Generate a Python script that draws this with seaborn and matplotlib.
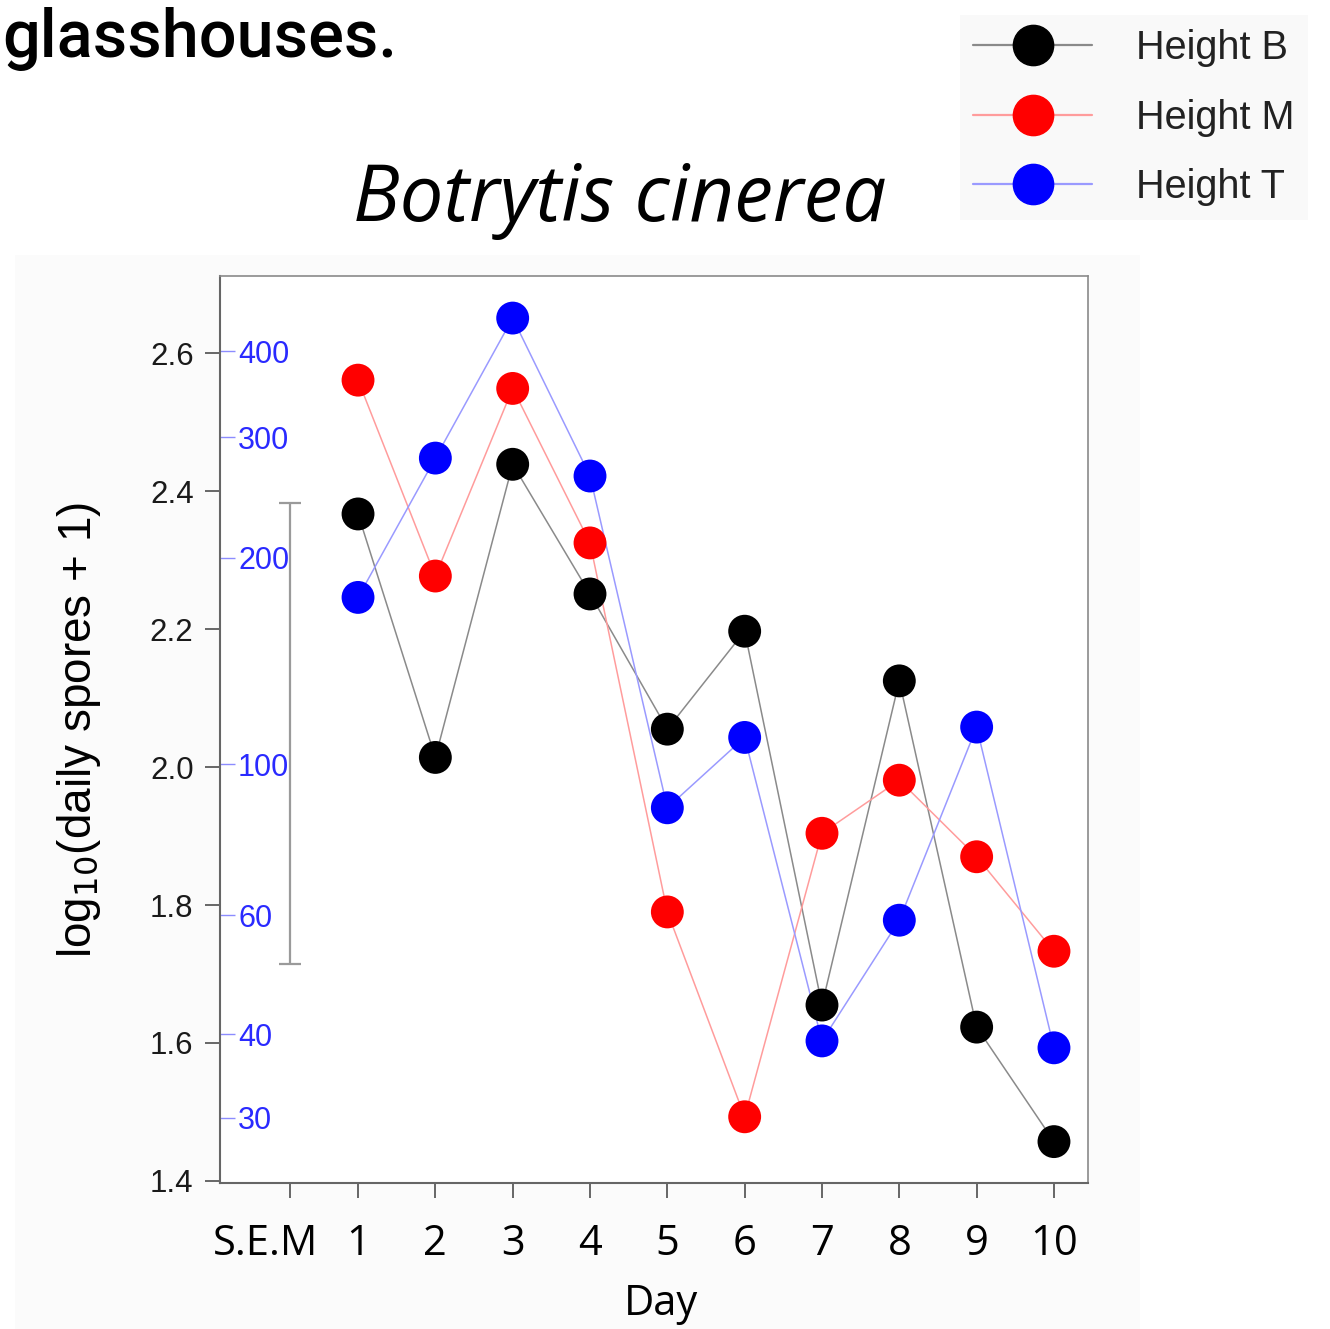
import numpy as np
import pandas as pd
import matplotlib
matplotlib.use("Agg")
import matplotlib.pyplot as plt
from matplotlib.lines import Line2D
from matplotlib.patches import Rectangle
from matplotlib.transforms import ScaledTranslation
import seaborn as sns

# ---------------- data ----------------
days = [1, 2, 3, 4, 5, 6, 7, 8, 9, 10]
height_b = [2.367, 2.014, 2.439, 2.251, 2.055, 2.197, 1.655, 2.125, 1.623, 1.457]
height_m = [2.561, 2.277, 2.549, 2.325, 1.790, 1.493, 1.904, 1.981, 1.870, 1.733]
height_t = [2.246, 2.448, 2.651, 2.422, 1.941, 2.043, 1.603, 1.778, 2.058, 1.593]
series_names = ["Height B", "Height M", "Height T"]

sem_x = 0.12
sem_center = 2.0485
sem_half = 0.3345

y_ticks = [1.4, 1.6, 1.8, 2.0, 2.2, 2.4, 2.6]
count_ticks = [30, 40, 60, 100, 200, 300, 400]
x_tick_labels = ["S.E.M"] + [str(d) for d in days]

marker_colors = {"Height B": "#000000", "Height M": "#ff0000", "Height T": "#0000ff"}
line_colors = {"Height B": "#8a8a8a", "Height M": "#ff9c9c", "Height T": "#9a9aff"}

df = pd.DataFrame({
    "Day": days * 3,
    "value": height_b + height_m + height_t,
    "Height": [n for n in series_names for _ in days],
})

# ---------------- figure ----------------
sns.set_style("white")
plt.rcParams["font.family"] = ["Liberation Sans", "DejaVu Sans"]
plt.rcParams["text.color"] = "black"

fig = plt.figure(figsize=(13.3, 13.29), dpi=100)
fig.patch.set_facecolor("white")
bg = Rectangle((15 / 1330, 0), (1140 - 15) / 1330, 1 - 255 / 1329,
               transform=fig.transFigure, facecolor="#fbfbfb", edgecolor="none", zorder=-10)
fig.add_artist(bg)

ax = fig.add_axes([220 / 1330, 1 - 1183 / 1329, (1088 - 220) / 1330, (1183 - 276) / 1329])
ax.set_zorder(1)
ax.set_facecolor("white")

sns.lineplot(data=df, x="Day", y="value", hue="Height", palette=line_colors,
             linewidth=1.1, estimator=None, sort=False, legend=False, ax=ax, zorder=2)
sns.scatterplot(data=df, x="Day", y="value", hue="Height", palette=marker_colors,
                s=560, edgecolor="none", linewidth=0, legend=False, ax=ax, zorder=3)

# S.E.M bar
ax.errorbar([sem_x], [sem_center], yerr=[sem_half], fmt="none", ecolor="#9a9a9a",
            elinewidth=1.6, capsize=8, capthick=1.6, zorder=2)

ax.set_xlim(-0.785, 10.44)
ax.set_ylim(1.397, 2.712)

ax.set_xticks([sem_x] + days)
ax.set_xticklabels(x_tick_labels, fontfamily="Open Sans", fontsize=30, color="black")
ax.set_yticks(y_ticks)
ax.set_yticklabels([f"{v:.1f}" for v in y_ticks], fontsize=22.5, color="#1a1a1a")
ax.tick_params(axis="x", direction="out", length=11, width=1.4, color="#666666", pad=18, bottom=True)
ax.tick_params(axis="y", direction="out", length=11, width=1.4, color="#666666", pad=8, left=True)

sem_lab = ax.get_xticklabels()[0]
sem_lab.set_transform(sem_lab.get_transform() + ScaledTranslation(-0.24, 0, fig.dpi_scale_trans))

for side in ["left", "bottom"]:
    ax.spines[side].set_color("#666666")
    ax.spines[side].set_linewidth(1.5)
for side in ["right", "top"]:
    ax.spines[side].set_color("#8a8a8a")
    ax.spines[side].set_linewidth(1.2)

ax.set_xlabel("Day", fontfamily="Open Sans", fontsize=30, labelpad=13, color="black")
ax.xaxis.label.set_x(0.5 + 7 / 868)
ax.set_ylabel(r"log$_{10}$(daily spores + 1)", fontsize=33, labelpad=34, color="black")

# secondary count axis (inside)
sec = ax.secondary_yaxis("left", functions=(lambda y: 10 ** y - 1,
                                            lambda c: np.log10(np.clip(c, 1e-9, None) + 1)))
sec.set_yticks(count_ticks)
sec.set_yticklabels([str(c) for c in count_ticks])
sec.tick_params(axis="y", direction="in", length=11, width=1.0, color="#8c8cff",
                labelcolor="#2a2aff", labelsize=22, pad=-13)
sec.spines["left"].set_visible(False)
for lab in sec.get_yticklabels():
    lab.set_ha("left")

# title
fig.text(620 / 1330, 1 - 200 / 1329, "Botrytis cinerea", fontfamily="Open Sans",
         style="italic", fontsize=56, ha="center", va="center", color="black")

# slide header fragment
fig.text(2 / 1330, 1 - 57 / 1329, "glasshouses.", fontfamily="Roboto", fontweight="medium",
         fontsize=48, ha="left", va="baseline", color="black")

# legend
handles = [Line2D([0], [0], color=line_colors[n], linewidth=1.6, marker="o",
                  markersize=29, markerfacecolor=marker_colors[n],
                  markeredgecolor=marker_colors[n]) for n in series_names]
leg = fig.legend(handles, series_names, loc="upper right",
                 bbox_to_anchor=(1308 / 1330, 1 - 15 / 1329), frameon=True,
                 fontsize=28.5, handlelength=3.0, handletextpad=1.1, labelspacing=0.8,
                 borderpad=0.35, borderaxespad=0, fancybox=False)
leg.get_frame().set_facecolor("#f8f8f8")
leg.get_frame().set_edgecolor("none")
for t in leg.get_texts():
    t.set_color("#222222")

fig.savefig("out.png", dpi=100)
